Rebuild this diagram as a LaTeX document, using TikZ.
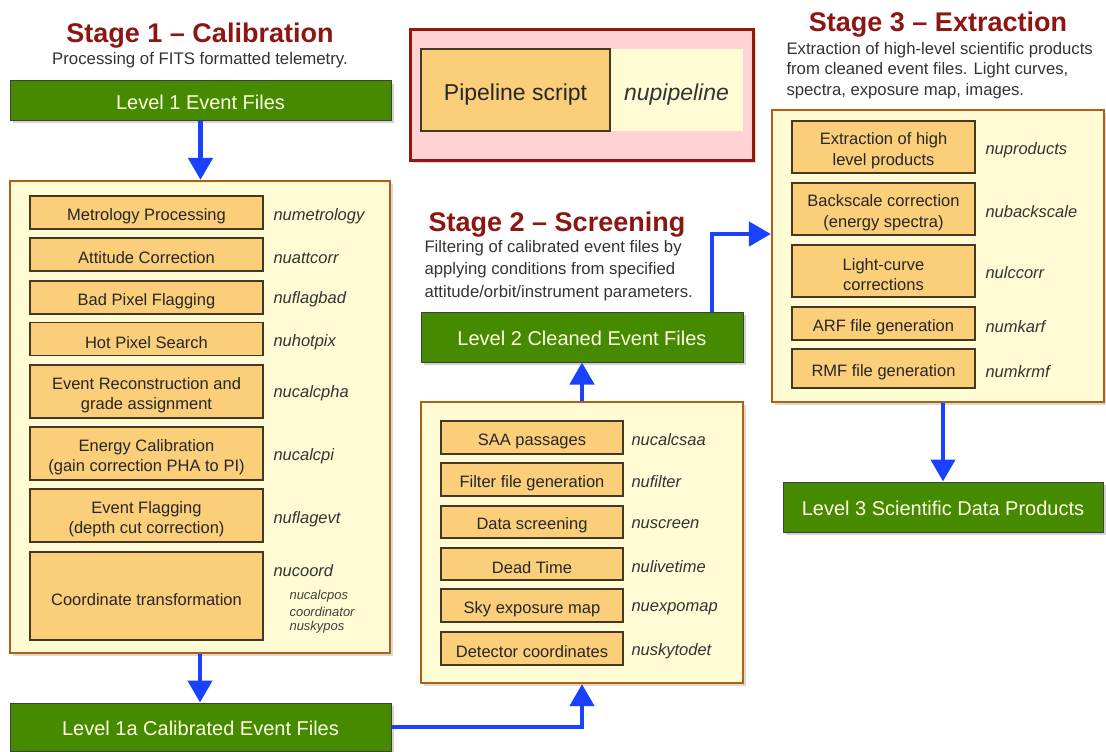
\documentclass[tikz,border=0pt]{standalone}
\usepackage{fontspec}
\setmainfont{Liberation Sans}
\usetikzlibrary{arrows.meta,shadows}

\definecolor{stagered}{RGB}{140,22,18}
\definecolor{levelgreen}{RGB}{70,138,0}
\definecolor{panelfill}{RGB}{255,251,212}
\definecolor{paneldraw}{RGB}{176,96,18}
\definecolor{taskfill}{RGB}{251,207,122}
\definecolor{taskdraw}{RGB}{70,55,35}
\definecolor{flowblue}{RGB}{25,65,255}
\definecolor{legendfill}{RGB}{255,210,212}
\definecolor{legenddraw}{RGB}{150,22,10}

\begin{document}
\begin{tikzpicture}[x=1pt,y=-1pt,
  stagetitle/.style={text=stagered, font=\fontsize{27}{30}\selectfont\bfseries},
  stagenote/.style={text=black!80, font=\fontsize{16.8}{22}\selectfont, align=left},
  lift/.style={execute at begin node={\rule{0pt}{#1}}},
  level/.style={draw=black!75, line width=1pt, fill=levelgreen, text=white!90!yellow,
    font=\fontsize{20}{24}\selectfont, lift=18pt,
    drop shadow={shadow xshift=3pt, shadow yshift=-3pt, opacity=0.35}},
  panel/.style={draw=paneldraw, line width=2.2pt, fill=panelfill,
    drop shadow={shadow xshift=3pt, shadow yshift=-3pt, opacity=0.3}},
  task/.style={draw=taskdraw, line width=1.1pt, fill=taskfill, text=black!85,
    font=\fontsize{16.5}{20.5}\selectfont, align=center, inner sep=0pt, lift=19pt},
  task2/.style={task, lift=39.5pt},
  tool/.style={anchor=west, text=black!80, font=\fontsize{16.5}{20}\selectfont\itshape},
  subtool/.style={anchor=west, text=black!75, font=\fontsize{13}{15}\selectfont\itshape},
  flow/.style={draw=flowblue, line width=4.5pt, -{Triangle[width=24pt,length=22pt]}},
]
\useasboundingbox (0,0) rectangle (1106,752);

% Stage 1
\node[stagetitle] (t1) at (200,36) {Stage 1 – Calibration};
\node[stagenote] (n1) at (200,60) {Processing of FITS formatted telemetry.};
\node[level, minimum width=381pt, minimum height=39pt] (l1) at (200.5,100.5) {Level 1 Event Files};
\node[panel, minimum width=380pt, minimum height=472pt] (p1) at (200,417) {};
\node[task, minimum width=233pt, minimum height=33pt] (metro) at (146.5,212.5) {Metrology Processing};
\node[task, minimum width=233pt, minimum height=33pt] (att) at (146.5,254.5) {Attitude Correction};
\node[task, minimum width=233pt, minimum height=33pt] (badpix) at (146.5,297.5) {Bad Pixel Flagging};
\node[task, minimum width=233pt, minimum height=33pt] (hotpix) at (146.5,339) {Hot Pixel Search};
\node[task2, minimum width=233pt, minimum height=53pt] (evrec) at (146.5,391.5) {Event Reconstruction and\\grade assignment};
\node[task2, minimum width=233pt, minimum height=53pt] (ecal) at (146.5,453.5) {Energy Calibration\\(gain correction PHA to PI)};
\node[task2, minimum width=233pt, minimum height=53pt] (evflag) at (146.5,515.5) {Event Flagging\\(depth cut correction)};
\node[task, minimum width=233pt, minimum height=88pt] (coord) at (146.5,596) {Coordinate transformation};
\node[tool] (metro-t) at (270,216) {numetrology};
\node[tool] (att-t) at (270,258) {nuattcorr};
\node[tool] (badpix-t) at (270,299) {nuflagbad};
\node[tool] (hotpix-t) at (270,342) {nuhotpix};
\node[tool] (evrec-t) at (270,393) {nucalcpha};
\node[tool] (ecal-t) at (270,456) {nucalcpi};
\node[tool] (evflag-t) at (270,519) {nuflagevt};
\node[tool] (coord-t) at (270,571) {nucoord};
\node[subtool] (calcpos-t) at (286,596) {nucalcpos};
\node[subtool] (coordr-t) at (286,611.5) {coordinator};
\node[subtool] (skypos-t) at (286,627) {nuskypos};
\node[level, minimum width=381pt, minimum height=48pt] (l1a) at (200.5,727) {Level 1a Calibrated Event Files};

% Legend
\node[draw=legenddraw, line width=3pt, fill=legendfill, minimum width=343pt, minimum height=130pt,
  drop shadow={shadow xshift=3pt, shadow yshift=-3pt, opacity=0.3}] (legend) at (581.5,95) {};
\node[fill=panelfill, minimum width=133pt, minimum height=82pt, text=black!80, lift=26pt,
  font=\fontsize{23}{26}\selectfont\itshape] (leg-t) at (676.5,90) {nupipeline};
\node[task, minimum width=189pt, minimum height=82pt, lift=26pt, font=\fontsize{23}{26}\selectfont] (leg-s) at (515.5,90) {Pipeline script};

% Stage 2
\node[stagetitle] (t2) at (557,225) {Stage 2 – Screening};
\node[stagenote, anchor=west, font=\fontsize{16.7}{22.5}\selectfont] (n2) at (421,270.5) {Filtering of calibrated event files by\\applying conditions from specified\\attitude/orbit/instrument parameters.};
\node[level, minimum width=322pt, minimum height=50pt] (l2) at (582,337) {Level 2 Cleaned Event Files};
\node[panel, minimum width=322pt, minimum height=281pt] (p2) at (582,542.5) {};
\node[task, minimum width=182pt, minimum height=33pt] (saa) at (532,437.5) {SAA passages};
\node[task, minimum width=182pt, minimum height=33pt] (filt) at (532,479.5) {Filter file generation};
\node[task, minimum width=182pt, minimum height=32pt] (scr) at (532,522) {Data screening};
\node[task, minimum width=182pt, minimum height=32pt] (dead) at (532,564) {Dead Time};
\node[task, minimum width=182pt, minimum height=33pt] (expo) at (532,605.5) {Sky exposure map};
\node[task, minimum width=182pt, minimum height=33pt] (det) at (532,648.5) {Detector coordinates};
\node[tool] (saa-t) at (628,440) {nucalcsaa};
\node[tool] (filt-t) at (628,482) {nufilter};
\node[tool] (scr-t) at (628,524) {nuscreen};
\node[tool] (dead-t) at (628,567) {nulivetime};
\node[tool] (expo-t) at (628,609) {nuexpomap};
\node[tool] (det-t) at (628,651) {nuskytodet};

% Stage 3
\node[stagetitle] (t3) at (938,25) {Stage 3 – Extraction};
\node[stagenote, anchor=west, font=\fontsize{16.7}{20.5}\selectfont] (n3) at (783,70.5) {Extraction of high-level scientific products\\from cleaned event files. Light curves,\\spectra, exposure map, images.};
\node[panel, minimum width=332pt, minimum height=292pt] (p3) at (938,256) {};
\node[task2, minimum width=183pt, minimum height=52pt] (prod) at (883.5,147) {Extraction of high\\level products};
\node[task2, minimum width=183pt, minimum height=52pt] (bksc) at (883.5,209) {Backscale correction\\(energy spectra)};
\node[task2, minimum width=183pt, minimum height=52pt] (lc) at (883.5,271) {Light-curve\\corrections};
\node[task, minimum width=183pt, minimum height=33pt] (arf) at (883.5,323.5) {ARF file generation};
\node[task, minimum width=183pt, minimum height=39pt] (rmf) at (883.5,368.5) {RMF file generation};
\node[tool] (prod-t) at (982,150) {nuproducts};
\node[tool] (bksc-t) at (982,212) {nubackscale};
\node[tool] (lc-t) at (982,273) {nulccorr};
\node[tool] (arf-t) at (982,327) {numkarf};
\node[tool] (rmf-t) at (982,372) {numkrmf};
\node[level, minimum width=320pt, minimum height=50pt] (l3) at (943,507) {Level 3 Scientific Data Products};

% flow
\coordinate (bend) at (712,234);
\draw[flow] (l1.south) -- (l1.south |- p1.north);
\draw[flow] (p1.south) -- (p1.south |- l1a.north);
\draw[flow] (l1a.east) -| (p2.south);
\draw[flow] (p2.north) -- (l2.south);
\draw[flow] (l2.north -| bend) |- (p3.west |- bend);
\draw[flow] (l3.north |- p3.south) -- (l3.north);
\end{tikzpicture}
\end{document}
